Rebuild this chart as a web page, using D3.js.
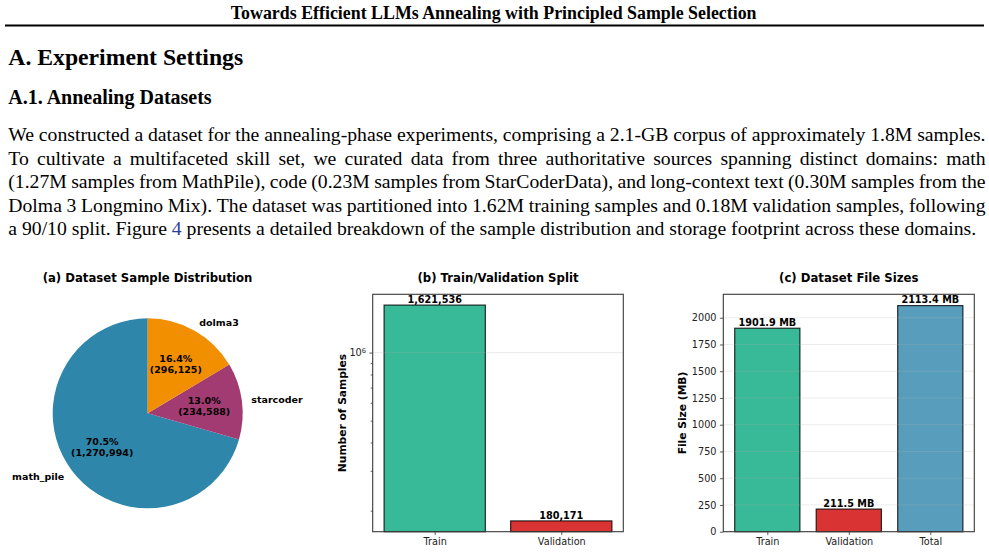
<!DOCTYPE html>
<html>
<head>
<meta charset="utf-8">
<title>A.1 Annealing Datasets</title>
<script src="https://cdn.jsdelivr.net/npm/d3@7"></script>
<style>
  body { margin: 0; background: #fff; }
  svg { display: block; }
</style>
</head>
<body>
<svg id="page" width="989" height="553"></svg>
<script>
// page text
var headerText = "Towards Efficient LLMs Annealing with Principled Sample Selection";
var sectionTitle = "A. Experiment Settings";
var subsectionTitle = "A.1. Annealing Datasets";
var paragraphLines = [
  "We constructed a dataset for the annealing-phase experiments, comprising a 2.1-GB corpus of approximately 1.8M samples.",
  "To cultivate a multifaceted skill set, we curated data from three authoritative sources spanning distinct domains: math",
  "(1.27M samples from MathPile), code (0.23M samples from StarCoderData), and long-context text (0.30M samples from the",
  "Dolma 3 Longmino Mix). The dataset was partitioned into 1.62M training samples and 0.18M validation samples, following",
  "a 90/10 split. Figure 4 presents a detailed breakdown of the sample distribution and storage footprint across these domains."
];

// (a) sample distribution
var sources = ["math_pile", "starcoder", "dolma3"];
var sourceSamples = [1270994, 234588, 296125];
var sourceColors = ["#2E86AB", "#A23B72", "#F18F01"];

// (b) train / validation split
var splitNames = ["Train", "Validation"];
var splitSamples = [1621536, 180171];
var splitColors = ["#38B997", "#D93333"];

// (c) file sizes
var sizeNames = ["Train", "Validation", "Total"];
var sizeMB = [1901.9, 211.5, 2113.4];
var sizeColors = ["#38B997", "#D93333", "#589EBC"];
var sizeTicks = [0, 250, 500, 750, 1000, 1250, 1500, 1750, 2000];

var svg = d3.select("#page");
var serif = '"Liberation Serif", "Times New Roman", serif';
var sans = '"DejaVu Sans", sans-serif';

function textWidth(str, size, weight, family) {
  var t = svg.append("text")
    .attr("font-family", family).attr("font-size", size).attr("font-weight", weight)
    .text(str);
  var w = t.node().getComputedTextLength();
  t.remove();
  return w;
}

// ---------- page header and text ----------
var hSize = 15 * 526 / textWidth(headerText, 15, "bold", serif);
svg.append("text")
  .attr("x", 493.7).attr("y", 18.5).attr("text-anchor", "middle")
  .attr("font-family", serif).attr("font-weight", "bold").attr("font-size", hSize)
  .text(headerText);
svg.append("line")
  .attr("x1", 5).attr("x2", 984).attr("y1", 25.5).attr("y2", 25.5)
  .attr("stroke", "#000").attr("stroke-width", 1.8);

var s1 = 24 * 235 / textWidth(sectionTitle, 24, "bold", serif);
svg.append("text").attr("x", 8.3).attr("y", 65)
  .attr("font-family", serif).attr("font-weight", "bold").attr("font-size", s1)
  .text(sectionTitle);
var s2 = 20 * 203.4 / textWidth(subsectionTitle, 20, "bold", serif);
svg.append("text").attr("x", 8.3).attr("y", 103.5)
  .attr("font-family", serif).attr("font-weight", "bold").attr("font-size", s2)
  .text(subsectionTitle);

// paragraph: last line sets the size, the others are justified word by word
var paraLeft = 8.3, paraRight = 985.5, lastRight = 976.5;
var lastLine = paragraphLines[paragraphLines.length - 1];
var pSize = 18 * (lastRight - paraLeft) / textWidth(lastLine, 18, "normal", serif);

paragraphLines.forEach(function(line, i) {
  var words = line.split(" ");
  var widths = words.map(function(w) { return textWidth(w, pSize, "normal", serif); });
  var total = d3.sum(widths);
  var gap;
  if (i < paragraphLines.length - 1) {
    gap = (paraRight - paraLeft - total) / (words.length - 1);
  } else {
    gap = (textWidth(line, pSize, "normal", serif) - total) / (words.length - 1);
  }
  var t = svg.append("text")
    .attr("font-family", serif).attr("font-size", pSize)
    .attr("y", 141 + i * 23.6);
  var x = paraLeft;
  words.forEach(function(w, j) {
    var isLink = (w === "4" && words[j - 1] === "Figure");
    t.append("tspan").attr("x", x).text(w).attr("fill", isLink ? "#2c3e9e" : "#000");
    x += widths[j] + gap;
  });
});

// ---------- (a) pie ----------
var cx = 147.7, cy = 413.3, radius = 95;
svg.append("text")
  .attr("x", 147.5).attr("y", 281.8).attr("text-anchor", "middle")
  .attr("font-family", sans).attr("font-weight", "bold").attr("font-size", 11.7)
  .text("(a) Dataset Sample Distribution");

var pie = d3.pie().sort(null).startAngle(0).endAngle(-2 * Math.PI);
var arcs = pie(sourceSamples);
var arc = d3.arc().innerRadius(0).outerRadius(radius);
var totalSamples = d3.sum(sourceSamples);
var fmt = d3.format(",");

var gp = svg.append("g").attr("transform", "translate(" + cx + "," + cy + ")");
gp.selectAll("path")
  .data(arcs)
  .enter().append("path")
    .attr("d", arc)
    .attr("fill", function(d, i) { return sourceColors[i]; });

gp.selectAll("text.name")
  .data(arcs)
  .enter().append("text")
    .attr("class", "name")
    .attr("font-family", sans).attr("font-weight", "bold").attr("font-size", 9.5)
    .attr("text-anchor", function(d) {
      var a = (d.startAngle + d.endAngle) / 2;
      return Math.sin(a) > 0 ? "start" : "end";
    })
    .attr("x", function(d) { return 1.1 * radius * Math.sin((d.startAngle + d.endAngle) / 2); })
    .attr("y", function(d) { return -1.1 * radius * Math.cos((d.startAngle + d.endAngle) / 2) + 3.4; })
    .text(function(d, i) { return sources[i]; });

arcs.forEach(function(d, i) {
  var a = (d.startAngle + d.endAngle) / 2;
  var px = 0.6 * radius * Math.sin(a), py = -0.6 * radius * Math.cos(a);
  var t = gp.append("text")
    .attr("font-family", sans).attr("font-weight", "bold").attr("font-size", 9.5)
    .attr("text-anchor", "middle");
  t.append("tspan").attr("x", px).attr("y", py - 5.5 + 3.4)
    .text((d.value / totalSamples * 100).toFixed(1) + "%");
  t.append("tspan").attr("x", px).attr("y", py + 5.5 + 3.4)
    .text("(" + fmt(d.value) + ")");
});

// ---------- shared bar chart bits ----------
var axTop = 294.3, axBottom = 531.7;

function xDomain(n) {
  var lo = -0.4, hi = n - 1 + 0.4, m = (hi - lo) * 0.05;
  return [lo - m, hi + m];
}

function frame(g, left, right) {
  g.append("rect")
    .attr("x", left).attr("y", axTop)
    .attr("width", right - left).attr("height", axBottom - axTop)
    .attr("fill", "none").attr("stroke", "#3a3a3a").attr("stroke-width", 1.1);
}

function styleAxis(sel) {
  sel.select(".domain").remove();
  sel.selectAll("line").attr("stroke", "#333").attr("stroke-width", 0.8);
  sel.selectAll("text").attr("font-family", sans).attr("font-size", 9.7).attr("fill", "#222");
}

// ---------- (b) train / validation, log scale ----------
var bLeft = 372.7, bRight = 623.3;
var bx = d3.scaleLinear().domain(xDomain(splitNames.length)).range([bLeft, bRight]);
var lLo = Math.log10(d3.min(splitSamples)), lHi = Math.log10(d3.max(splitSamples));
var lPad = (lHi - lLo) * 0.05;
var by = d3.scaleLog()
  .domain([Math.pow(10, lLo - lPad), Math.pow(10, lHi + lPad)])
  .range([axBottom, axTop]);

var gb = svg.append("g");
gb.append("text")
  .attr("x", (bLeft + bRight) / 2).attr("y", 281.8).attr("text-anchor", "middle")
  .attr("font-family", sans).attr("font-weight", "bold").attr("font-size", 11.7)
  .text("(b) Train/Validation Split");

gb.selectAll("rect.bar")
  .data(splitSamples)
  .enter().append("rect")
    .attr("class", "bar")
    .attr("x", function(d, i) { return bx(i - 0.4); })
    .attr("width", function(d, i) { return bx(i + 0.4) - bx(i - 0.4); })
    .attr("y", function(d) { return by(d); })
    .attr("height", function(d) { return axBottom - by(d); })
    .attr("fill", function(d, i) { return splitColors[i]; })
    .attr("stroke", "rgba(0,0,0,0.8)").attr("stroke-width", 1.2);

var logTicks = by.ticks();
var majorTicks = logTicks.filter(function(v) { return Math.abs(Math.log10(v) - Math.round(Math.log10(v))) < 1e-9; });
var minorTicks = logTicks.filter(function(v) { return majorTicks.indexOf(v) < 0; });

gb.selectAll("line.grid")
  .data(majorTicks)
  .enter().append("line")
    .attr("class", "grid")
    .attr("x1", bLeft).attr("x2", bRight)
    .attr("y1", function(d) { return by(d); }).attr("y2", function(d) { return by(d); })
    .attr("stroke", "#b0b0b0").attr("stroke-opacity", 0.3).attr("stroke-width", 0.8);

gb.append("g")
  .attr("transform", "translate(" + bLeft + ",0)")
  .call(d3.axisLeft(by).tickValues(minorTicks).tickSize(2).tickFormat(""))
  .call(styleAxis);
var bMajor = gb.append("g")
  .attr("transform", "translate(" + bLeft + ",0)")
  .call(d3.axisLeft(by).tickValues(majorTicks).tickSize(3.4).tickPadding(3.2)
    .tickFormat(function() { return ""; }))
  .call(styleAxis);
bMajor.selectAll(".tick text").each(function(d) {
  var t = d3.select(this);
  t.append("tspan").text("10");
  t.append("tspan").attr("dy", "-0.45em").attr("font-size", 6.8).text(Math.round(Math.log10(d)));
});

gb.append("g")
  .attr("transform", "translate(0," + axBottom + ")")
  .call(d3.axisBottom(bx).tickValues(d3.range(splitNames.length)).tickSize(3.4).tickPadding(3.4)
    .tickFormat(function(i) { return splitNames[i]; }))
  .call(styleAxis);

gb.selectAll("text.val")
  .data(splitSamples)
  .enter().append("text")
    .attr("class", "val")
    .attr("x", function(d, i) { return bx(i); })
    .attr("y", function(d) { return by(d) - 2.3; })
    .attr("text-anchor", "middle")
    .attr("font-family", sans).attr("font-weight", "bold").attr("font-size", 9.7)
    .text(function(d) { return fmt(d); });

gb.append("text")
  .attr("transform", "translate(345.6," + (axTop + axBottom) / 2 + ") rotate(-90)")
  .attr("text-anchor", "middle")
  .attr("font-family", sans).attr("font-weight", "bold").attr("font-size", 10.7)
  .text("Number of Samples");
frame(gb, bLeft, bRight);

// ---------- (c) file sizes ----------
var cLeft = 723.3, cRight = 974.3;
var cxs = d3.scaleLinear().domain(xDomain(sizeNames.length)).range([cLeft, cRight]);
var cys = d3.scaleLinear().domain([0, d3.max(sizeMB) * 1.05]).range([axBottom, axTop]);

var gc = svg.append("g");
gc.append("text")
  .attr("x", (cLeft + cRight) / 2).attr("y", 281.8).attr("text-anchor", "middle")
  .attr("font-family", sans).attr("font-weight", "bold").attr("font-size", 11.7)
  .text("(c) Dataset File Sizes");

gc.selectAll("rect.bar")
  .data(sizeMB)
  .enter().append("rect")
    .attr("class", "bar")
    .attr("x", function(d, i) { return cxs(i - 0.4); })
    .attr("width", function(d, i) { return cxs(i + 0.4) - cxs(i - 0.4); })
    .attr("y", function(d) { return cys(d); })
    .attr("height", function(d) { return axBottom - cys(d); })
    .attr("fill", function(d, i) { return sizeColors[i]; })
    .attr("stroke", "rgba(0,0,0,0.8)").attr("stroke-width", 1.2);

gc.selectAll("line.grid")
  .data(sizeTicks)
  .enter().append("line")
    .attr("class", "grid")
    .attr("x1", cLeft).attr("x2", cRight)
    .attr("y1", function(d) { return cys(d); }).attr("y2", function(d) { return cys(d); })
    .attr("stroke", "#b0b0b0").attr("stroke-opacity", 0.3).attr("stroke-width", 0.8);

gc.append("g")
  .attr("transform", "translate(" + cLeft + ",0)")
  .call(d3.axisLeft(cys).tickValues(sizeTicks).tickSize(3.4).tickPadding(3.4).tickFormat(d3.format("d")))
  .call(styleAxis);
gc.append("g")
  .attr("transform", "translate(0," + axBottom + ")")
  .call(d3.axisBottom(cxs).tickValues(d3.range(sizeNames.length)).tickSize(3.4).tickPadding(3.4)
    .tickFormat(function(i) { return sizeNames[i]; }))
  .call(styleAxis);

gc.selectAll("text.val")
  .data(sizeMB)
  .enter().append("text")
    .attr("class", "val")
    .attr("x", function(d, i) { return cxs(i); })
    .attr("y", function(d) { return cys(d) - 2.3; })
    .attr("text-anchor", "middle")
    .attr("font-family", sans).attr("font-weight", "bold").attr("font-size", 9.7)
    .text(function(d) { return d.toFixed(1) + " MB"; });

gc.append("text")
  .attr("transform", "translate(685.5," + (axTop + axBottom) / 2 + ") rotate(-90)")
  .attr("text-anchor", "middle")
  .attr("font-family", sans).attr("font-weight", "bold").attr("font-size", 10.7)
  .text("File Size (MB)");
frame(gc, cLeft, cRight);
</script>
</body>
</html>
